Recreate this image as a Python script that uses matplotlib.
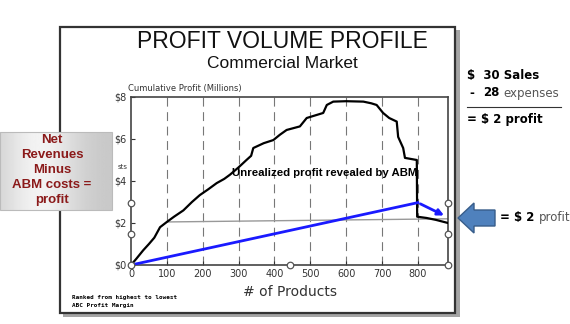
import numpy as np
import matplotlib.pyplot as plt
from matplotlib.patches import Rectangle, Polygon

# 累積利益カーブ (x: 製品数, y: 百万ドル)
cum_x = [0, 15, 34, 50, 65, 81, 100, 120, 146, 170, 192, 215, 239, 260, 276, 300,
         322, 335, 341, 370, 397, 415, 434, 471, 490, 536, 546, 564, 600, 648, 670,
         685, 703, 720, 741, 745, 759, 764, 797, 798, 824, 850, 884]
cum_y = [0, 0.3, 0.7, 1.0, 1.3, 1.8, 2.05, 2.3, 2.6, 3.0, 3.33, 3.6, 3.9, 4.1, 4.3, 4.65,
         5.0, 5.2, 5.57, 5.8, 5.95, 6.2, 6.43, 6.6, 7.0, 7.24, 7.62, 7.78, 7.8, 7.78, 7.7,
         7.62, 7.24, 7.0, 6.83, 6.1, 5.57, 5.1, 5.0, 2.3, 2.24, 2.15, 2.0]

# 灰色の基準線
ref_x = [100, 884]
ref_y = [2.05, 2.2]

# 青線 (ABM)
abm_x = [0, 800, 880]
abm_y = [0, 2.97, 2.3]

x_ticks = [0, 100, 200, 300, 400, 500, 600, 700, 800]
y_ticks = [0, 2, 4, 6, 8]
y_labels = ['$0', '$2', '$4', '$6', '$8']

W, H = 570, 324
fig = plt.figure(figsize=(W / 100, H / 100), dpi=100)

# 背景レイヤー (ピクセル座標)
bg = fig.add_axes([0, 0, 1, 1], zorder=0)
bg.set_xlim(0, W)
bg.set_ylim(H, 0)
bg.axis('off')
bg.add_patch(Rectangle((63, 30), 397, 287, facecolor='#a5a5a5', edgecolor='none'))
bg.add_patch(Rectangle((60, 27), 395, 286, facecolor='white', edgecolor='#333333', lw=1.6))
bg.text(282, 42, 'PROFIT VOLUME PROFILE', fontsize=16.5, ha='center', va='center',
        family='Liberation Sans', color='#111111')
bg.text(282, 63, 'Commercial Market', fontsize=12.5, ha='center',
        va='center', family='Liberation Sans', color='#111111')
bg.text(128, 88, 'Cumulative Profit (Millions)', fontsize=6, ha='left', va='center',
        color='#333333')
bg.text(290, 292, '# of Products', fontsize=10, ha='center', va='center', color='#333333')
bg.text(72, 298, 'Ranked from highest to lowest', fontsize=4.3, family='monospace',
        fontweight='bold', va='center')
bg.text(72, 305, 'ABC Profit Margin', fontsize=4.3, family='monospace',
        fontweight='bold', va='center')
bg.text(118, 167, 'sts', fontsize=5, va='center', color='#333333')

# グラフ本体
ax = fig.add_axes([131 / W, 59 / H, 317 / W, 168 / H], zorder=1)
ax.set_facecolor('none')
ax.set_xlim(0, 884)
ax.set_ylim(0, 8)
for xv in x_ticks[1:]:
    ax.axvline(xv, color='#777777', lw=0.8, ls=(0, (8, 5)), zorder=1)
ax.plot(ref_x, ref_y, color='#999999', lw=1.0, zorder=2)
ax.plot(cum_x, cum_y, color='black', lw=1.6, zorder=3)
ax.plot(abm_x[:2], abm_y[:2], color='#1a1aff', lw=2, zorder=4)
ax.annotate('', xy=(abm_x[2], abm_y[2]), xytext=(abm_x[1], abm_y[1]),
            arrowprops=dict(arrowstyle='-|>', color='#1a1aff', lw=2, mutation_scale=9),
            zorder=4)
ax.text(0.32, 0.55, 'Unrealized profit revealed by ABM', transform=ax.transAxes,
        fontsize=8.2, fontweight='bold', ha='left', va='center', family='Liberation Sans',
        zorder=5)
ax.set_xticks(x_ticks)
ax.set_yticks(y_ticks)
ax.set_yticklabels(y_labels)
ax.tick_params(labelsize=7, colors='#333333', length=3, direction='in', pad=3)
for s in ax.spines.values():
    s.set_color('#444444')
    s.set_linewidth(1.2)

# 選択ハンドル
hx = [0, 0, 0, 443, 884, 884, 884]
hy = [0, 1.48, 2.97, 0, 0, 1.48, 2.97]
ax.scatter(hx, hy, s=22, facecolor='white', edgecolor='#555555', lw=0.9,
           clip_on=False, zorder=6)

# 前面レイヤー
top = fig.add_axes([0, 0, 1, 1], zorder=2)
top.axis('off')
top.patch.set_alpha(0)

xx = np.linspace(0, 1, 120)
grad = 0.78 + 0.17 * np.exp(-((xx - 0.35) / 0.35) ** 2)
grad = np.tile(grad, (20, 1))
top.imshow(grad, extent=[0, 112, 210, 132], cmap='gray', vmin=0, vmax=1,
           aspect='auto', zorder=1)
top.add_patch(Rectangle((0, 132), 112, 78, facecolor='none', edgecolor='#bbbbbb', lw=0.8, zorder=2))
top.set_xlim(0, W)
top.set_ylim(H, 0)
box_lines = ['Net', 'Revenues', 'Minus', 'ABM costs =', 'profit']
for i, t in enumerate(box_lines):
    top.text(52, 140 + 15 * i, t, fontsize=9.5, fontweight='bold', color='#8b1a1a',
             ha='center', va='center', family='Liberation Sans', zorder=3)

# 右側の計算
top.text(467, 75, '$  30 Sales', fontsize=8.5, fontweight='bold', va='center')
top.text(469, 93, '-', fontsize=8.5, fontweight='bold', va='center')
top.text(483, 93, '28', fontsize=8.5, fontweight='bold', va='center')
top.text(503, 93, 'expenses', fontsize=8.5, color='#555555', va='center')
top.plot([467, 561], [107, 107], color='#333333', lw=0.8)
top.text(467, 120, '= $ 2 profit', fontsize=8.5, fontweight='bold', va='center')

arrow = Polygon([[458, 218], [474, 203], [474, 210], [495, 210], [495, 226],
                 [474, 226], [474, 233]], closed=True, facecolor='#4f81bd',
                edgecolor='#385d8a', lw=1, zorder=3)
top.add_patch(arrow)
top.text(500, 218, '= $ 2', fontsize=8.5, fontweight='bold', va='center')
top.text(539, 218, 'profit', fontsize=8.5, color='#555555', va='center')

fig.savefig('out.png', dpi=100)
